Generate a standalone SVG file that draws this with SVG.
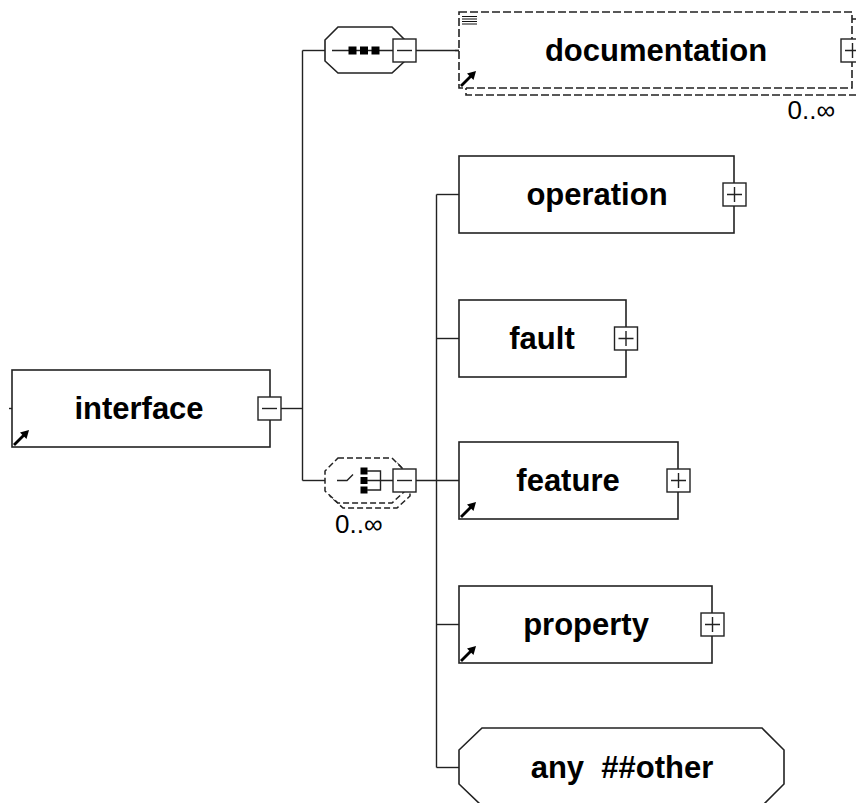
<svg xmlns="http://www.w3.org/2000/svg" xmlns:xlink="http://www.w3.org/1999/xlink" width="856" height="803" viewBox="0 0 856 803">
<style>
.box{fill:#fff;stroke:#222;stroke-width:1.6}
.dash{fill:#fff;stroke:#222;stroke-width:1.6;stroke-dasharray:8 3}
.dash2{fill:#fff;stroke:#222;stroke-width:1.5;stroke-dasharray:6 3}
.ln{fill:none;stroke:#222;stroke-width:1.4}
.lbl{font-family:"Liberation Sans",Arial,sans-serif;font-weight:bold;font-size:31px;fill:#000;text-anchor:middle}
.occ{font-family:"Liberation Sans",Arial,sans-serif;font-size:26px;fill:#000}
.pm{fill:#fff;stroke:#222;stroke-width:1.4}
</style>
<defs>
<g id="ref">
<line x1="1" y1="-1" x2="11" y2="-11" stroke="#000" stroke-width="2.8"/>
<polygon points="16,-16 7,-13.5 13.5,-7" fill="#000"/>
</g>
<g id="plus">
<rect class="pm" x="0" y="0" width="23" height="23"/>
<path d="M4 11.5H19M11.5 4V19" stroke="#222" stroke-width="1.4"/>
</g>
<g id="minus">
<rect class="pm" x="0" y="0" width="23" height="23"/>
<path d="M4 11.5H19" stroke="#222" stroke-width="1.4"/>
</g>
</defs>
<rect width="856" height="803" fill="#fff"/>

<g id="connectors">
<line class="ln" x1="9" y1="408.5" x2="12" y2="408.5"/>
<line class="ln" x1="281" y1="408.5" x2="302.5" y2="408.5"/>
<line class="ln" x1="302.5" y1="50.5" x2="302.5" y2="480.5"/>
<line class="ln" x1="302.5" y1="50.5" x2="325" y2="50.5"/>
<line class="ln" x1="302.5" y1="480.5" x2="325" y2="480.5"/>
<line class="ln" x1="416" y1="50.5" x2="459" y2="50.5"/>
<line class="ln" x1="416" y1="480.5" x2="459" y2="480.5"/>
<line class="ln" x1="436.5" y1="194.5" x2="436.5" y2="767.5"/>
<line class="ln" x1="436.5" y1="194.5" x2="459" y2="194.5"/>
<line class="ln" x1="436.5" y1="338.5" x2="459" y2="338.5"/>
<line class="ln" x1="436.5" y1="624.5" x2="459" y2="624.5"/>
<line class="ln" x1="436.5" y1="767.5" x2="459" y2="767.5"/>
</g>

<g id="interface">
<rect class="box" x="12" y="370" width="258" height="77"/>
<text class="lbl" x="139" y="419">interface</text>
<use xlink:href="#ref" x="13" y="446"/>
<use xlink:href="#minus" x="258" y="397"/>
</g>

<g id="sequence">
<polygon class="box" points="338,27 392,27 405,40 405,61 392,73 338,73 325,61 325,40"/>
<line class="ln" x1="332" y1="50.5" x2="393" y2="50.5"/>
<rect x="348.5" y="46.5" width="8" height="8" fill="#000"/>
<rect x="360" y="46.5" width="8" height="8" fill="#000"/>
<rect x="371.5" y="46.5" width="8" height="8" fill="#000"/>
<use xlink:href="#minus" x="393" y="39"/>
</g>

<g id="documentation">
<rect class="dash" x="466" y="19" width="394" height="76"/>
<rect class="dash" x="459" y="12" width="393" height="76"/>
<line class="ln" x1="455" y1="50.5" x2="459" y2="50.5"/>
<path d="M462 16.5H477M462 19H477M462 21.5H477M462 24H477" stroke="#111" stroke-width="1.2"/>
<text class="lbl" x="656" y="61">documentation</text>
<use xlink:href="#ref" x="460" y="87"/>
<use xlink:href="#plus" x="841" y="39"/>
<text class="occ" x="835" y="119" text-anchor="end">0..∞</text>
</g>

<g id="choice">
<polygon class="dash2" points="343,463 397,463 410,476 410,496 397,508 343,508 330,496 330,476"/>
<polygon class="dash2" points="338,458 392,458 405,471 405,491 392,503 338,503 325,491 325,471"/>
<path d="M337 480.5H347L353 474.5" class="ln"/>
<rect x="360.5" y="467.5" width="7" height="7" fill="#000"/>
<rect x="360.5" y="477" width="7" height="7" fill="#000"/>
<rect x="360.5" y="486.5" width="7" height="7" fill="#000"/>
<path d="M367 471H380.5V490H367M367 480.5H393" class="ln"/>
<use xlink:href="#minus" x="393" y="469"/>
<text class="occ" x="335" y="533">0..∞</text>
</g>

<g id="operation">
<rect class="box" x="459" y="156" width="275" height="77"/>
<text class="lbl" x="597" y="205">operation</text>
<use xlink:href="#plus" x="723" y="183"/>
</g>

<g id="fault">
<rect class="box" x="459" y="300" width="167" height="77"/>
<text class="lbl" x="542" y="349">fault</text>
<use xlink:href="#plus" x="614.5" y="327"/>
</g>

<g id="feature">
<rect class="box" x="459" y="442" width="219" height="77"/>
<text class="lbl" x="568" y="491">feature</text>
<use xlink:href="#ref" x="460" y="518"/>
<use xlink:href="#plus" x="667" y="469"/>
</g>

<g id="property">
<rect class="box" x="459" y="586" width="253" height="77"/>
<text class="lbl" x="586" y="635">property</text>
<use xlink:href="#ref" x="460" y="662"/>
<use xlink:href="#plus" x="701" y="613"/>
</g>

<g id="any">
<polygon class="box" points="482,728 762,728 784,750 784,784 762,806 482,806 459,784 459,750"/>
<text class="lbl" x="622" y="778" xml:space="preserve" style="white-space:pre">any  ##other</text>
</g>
</svg>
